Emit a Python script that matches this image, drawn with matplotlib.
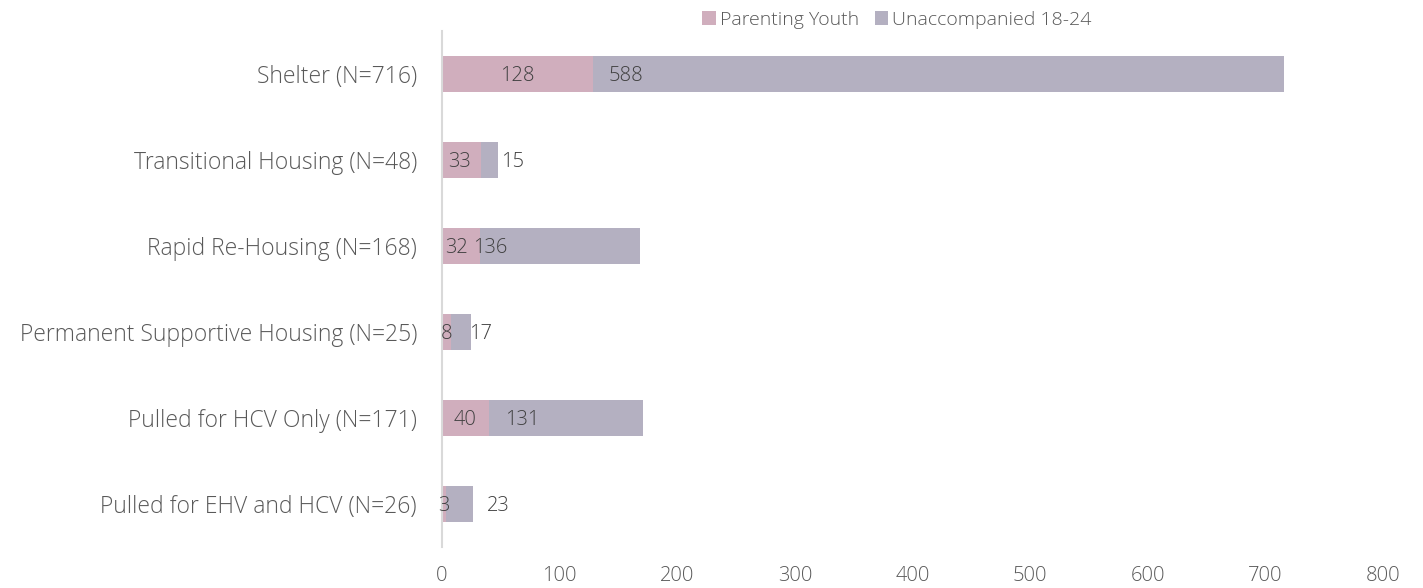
import matplotlib
matplotlib.use("Agg")
import matplotlib.pyplot as plt
import numpy as np

# ---- data ----
categories = [
    "Shelter (N=716)",
    "Transitional Housing (N=48)",
    "Rapid Re-Housing (N=168)",
    "Permanent Supportive Housing (N=25)",
    "Pulled for HCV Only (N=171)",
    "Pulled for EHV and HCV (N=26)",
]
parenting = [128, 33, 32, 8, 40, 3]
unaccompanied = [588, 15, 136, 17, 131, 23]
# label anchor positions as they appear in the source (data units)
parent_label_x = [64, 15, 12.5, 4, 19.5, 1.5]
unacc_label_x = [156, 60, 41, 33, 68, 48]
xticks = [0, 100, 200, 300, 400, 500, 600, 700, 800]

PINK = "#D0AEBD"
GRAY = "#B4B0C1"
TXT = "#404040"
TICK = "#595959"

plt.rcParams["font.family"] = ["Open Sans", "DejaVu Sans"]
plt.rcParams["font.weight"] = "light"

fig = plt.figure(figsize=(14.23, 5.88), dpi=100)
ax = fig.add_axes([442 / 1423, 1 - 547 / 588, (1383 - 442) / 1423, (547 - 31) / 588])

y = np.arange(len(categories))
ax.barh(y, parenting, height=0.41, color=PINK, label="Parenting Youth")
ax.barh(y, unaccompanied, left=parenting, height=0.41, color=GRAY, label="Unaccompanied 18-24")

for i in range(len(categories)):
    ax.text(parent_label_x[i], y[i] + 0.02, str(parenting[i]), ha="center", va="center",
            fontsize=14.5, color=TXT)
    ax.text(unacc_label_x[i], y[i] + 0.02, str(unaccompanied[i]), ha="center", va="center",
            fontsize=14.5, color=TXT)

ax.set_xlim(0, 800)
ax.set_ylim(len(categories) - 0.5, -0.5)
ax.set_yticks(y)
ax.set_yticklabels(categories, fontsize=16.5)
ax.set_xticks(xticks)
ax.tick_params(axis="both", length=0, labelcolor=TICK)
ax.tick_params(axis="x", pad=14, labelsize=14.5)
ax.tick_params(axis="y", pad=18)
for s in ["top", "right", "bottom"]:
    ax.spines[s].set_visible(False)
ax.spines["left"].set_color("#D9D9D9")
ax.spines["left"].set_linewidth(1.5)

fig.legend(loc="center", bbox_to_anchor=(897 / 1423, 1 - 20 / 588), ncol=2, frameon=False,
           fontsize=14, labelcolor=TICK, handlelength=0.7, handleheight=0.7,
           handletextpad=0.2, columnspacing=0.8)

fig.savefig("out.png", dpi=100)
